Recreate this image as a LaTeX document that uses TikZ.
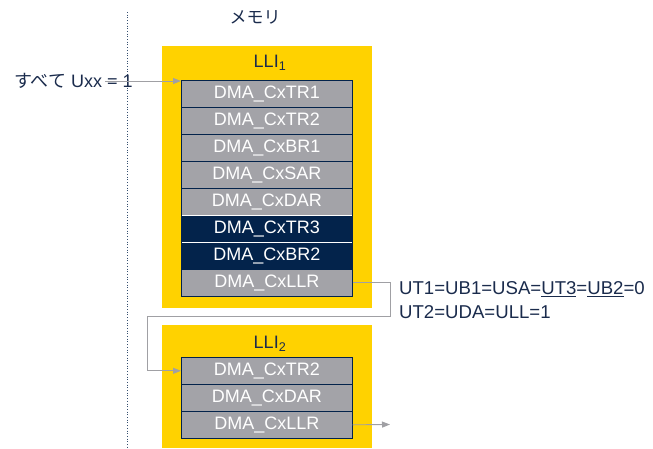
\documentclass[tikz,border=0pt]{standalone}
\usepackage{fontspec}
\setmainfont{Liberation Sans}
\newfontfamily\cjk{Noto Sans CJK JP}
\usetikzlibrary{arrows.meta,calc}
\definecolor{navy}{HTML}{03234B}
\definecolor{txt}{HTML}{1A2B4C}
\definecolor{styellow}{HTML}{FFD200}
\definecolor{reggray}{HTML}{A3A3A8}
\definecolor{arrgray}{HTML}{A0A0A4}
\begin{document}
\begin{tikzpicture}[x=1pt,y=-1pt,
  lbl/.style={font=\fontsize{18}{21}\selectfont, text=txt, inner sep=0pt},
  reg/.style={anchor=north west, minimum width=171pt, minimum height=27pt, inner sep=0pt,
    fill=reggray, draw=navy, line width=0.6pt, text=white, font=\fontsize{18}{21}\selectfont},
  regdark/.style={reg, fill=navy, draw=white},
  conn/.style={draw=arrgray, line width=0.9pt, -{Triangle[length=8pt,width=6pt]}},
  yel/.style={fill=styellow, draw=none}]
\useasboundingbox (0,0) rectangle (653,448);
% dotted separator
\draw[navy!80, dotted, line width=0.7pt] (127,12) -- (127,448);
\node[lbl, font=\cjk\fontsize{17}{20}\selectfont] (mem) at (255,17) {メモリ};
% LLI1
\fill[yel] (162,46) rectangle (372,308);
\node[lbl] (lli1) at (270,63) {LLI\textsubscript{1}};
\node[reg] (r1) at (181,80) {DMA\_CxTR1};
\node[reg] (r2) at (181,107) {DMA\_CxTR2};
\node[reg] (r3) at (181,134) {DMA\_CxBR1};
\node[reg] (r4) at (181,161) {DMA\_CxSAR};
\node[reg] (r5) at (181,188) {DMA\_CxDAR};
\node[regdark] (r6) at (181,215) {DMA\_CxTR3};
\node[regdark] (r7) at (181,242) {DMA\_CxBR2};
\node[reg] (r8) at (181,269) {DMA\_CxLLR};
\draw[navy, line width=0.8pt] (r1.north west) rectangle (r8.south east);
% LLI2
\fill[yel] (162,325) rectangle (372,448);
\node[lbl] (lli2) at (270,344) {LLI\textsubscript{2}};
\node[reg] (s1) at (181,357) {DMA\_CxTR2};
\node[reg] (s2) at (181,384) {DMA\_CxDAR};
\node[reg] (s3) at (181,411) {DMA\_CxLLR};
\draw[navy, line width=0.8pt] (s1.north west) rectangle (s3.south east);
% labels
\node[lbl, anchor=west] (all) at (14,81) {{\cjk すべて} Uxx = 1};
\coordinate (a0) at (105,81);
\draw[conn] (a0) -- ($(r1.north west)+(0,1)$);
\node[lbl, anchor=west, font=\fontsize{18.6}{21}\selectfont] (u1) at (399,289) {UT1=UB1=USA=\underline{UT3}=\underline{UB2}=0};
\node[lbl, anchor=west, font=\fontsize{18.6}{21}\selectfont] (u2) at (399,312) {UT2=UDA=ULL=1};
% connectors
\coordinate (c1) at (390,316);
\coordinate (c2) at (147,316);
\draw[conn] (r8.east) -| (c1) -- (c2) |- (s1.west);
\coordinate (e3) at (390,424.5);
\draw[conn] (s3.east) -- (e3);
\end{tikzpicture}
\end{document}
